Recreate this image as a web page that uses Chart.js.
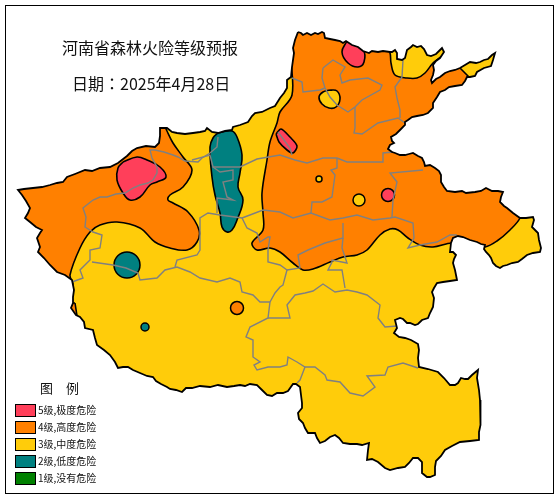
<!DOCTYPE html>
<html>
<head>
<meta charset="utf-8">
<script src="https://cdn.jsdelivr.net/npm/chart.js@4/dist/chart.umd.js"></script>
<style>
body { margin: 0; background: #fff; }
#wrap { position: relative; width: 560px; height: 500px; overflow: hidden; font-family: "Noto Sans CJK SC", sans-serif; color: #111; }
#myChart { position: absolute; left: 0; top: 0; }
#frame { position: absolute; left: 5px; top: 5px; width: 547px; height: 487px; border: 1px solid #000; }
.txt { position: absolute; white-space: nowrap; line-height: 1; }
.box { position: absolute; left: 15px; width: 19px; height: 11px; border: 1px solid #000; }
</style>
</head>
<body>
<div id="wrap">
  <canvas id="myChart" width="560" height="500"></canvas>
  <div id="frame"></div>
  <div id="texts"></div>
</div>
<script>
// values, x / y in the map's own 560x500 grid
const titleText = '河南省森林火险等级预报';
const dateText = '日期：2025年4月28日';
const legendTitle = '图　例';
const levels = ['5级,极度危险', '4级,高度危险', '3级,中度危险', '2级,低度危险', '1级,没有危险'];
const colors = ['#FF3F5A', '#FF8000', '#FFCC0A', '#008080', '#008000'];

const province = [[298,32],[301,33],[303,35],[307,33],[311,35],[315,33],[318,34],[322,32],[324,33],[325,38],[330,39],[335,40],[340,41],[343,43],[346,41],[352,45],[358,47],[363,51],[369,53],[372,51],[378,52],[383,51],[390,52],[392,52],[395,50],[397,53],[397,59],[402,60],[405,58],[407,50],[411,47],[413,45],[417,47],[421,46],[424,49],[427,55],[431,56],[436,54],[440,50],[442,48],[444,52],[440,58],[436,61],[433,65],[434,70],[433,75],[431,80],[432,83],[436,79],[440,77],[445,73],[450,71],[455,70],[460,68],[465,65],[470,62],[476,63],[480,62],[484,60],[488,59],[492,55],[495,53],[493,60],[491,66],[484,68],[477,72],[475,76],[470,77],[467,77],[465,81],[462,85],[455,86],[449,87],[445,90],[440,92],[437,97],[433,103],[433,108],[428,113],[423,115],[417,116],[412,117],[408,120],[405,122],[405,125],[400,130],[396,134],[391,137],[392,141],[394,143],[390,145],[388,149],[392,152],[395,153],[400,155],[405,155],[409,154],[413,153],[418,156],[422,158],[424,162],[425,166],[430,165],[435,168],[439,171],[441,175],[441,182],[444,187],[447,191],[455,192],[462,191],[466,193],[475,192],[481,191],[486,188],[492,191],[498,191],[503,192],[501,197],[500,202],[504,206],[507,208],[513,213],[520,218],[526,218],[533,217],[534,220],[532,227],[535,230],[538,233],[539,240],[541,248],[540,252],[533,253],[527,255],[522,259],[518,262],[512,263],[507,265],[503,266],[500,268],[496,266],[493,263],[491,258],[489,255],[486,252],[484,249],[485,245],[481,244],[477,242],[470,240],[463,237],[458,236],[453,238],[451,243],[450,252],[453,252],[456,255],[454,259],[453,263],[455,270],[456,275],[457,280],[450,281],[443,282],[437,283],[434,288],[432,292],[434,298],[433,307],[430,313],[428,318],[422,320],[418,324],[415,325],[410,323],[407,323],[403,319],[400,318],[395,320],[396,324],[397,328],[394,333],[399,337],[405,338],[411,340],[418,344],[419,350],[418,358],[419,367],[428,369],[438,372],[444,378],[450,385],[455,385],[458,383],[461,378],[465,379],[468,379],[472,375],[478,370],[477,378],[479,390],[480,400],[481,410],[480,425],[479,432],[479,440],[470,441],[460,442],[452,446],[445,450],[441,456],[436,461],[435,467],[435,475],[430,477],[427,477],[422,473],[422,462],[418,458],[413,458],[409,463],[405,467],[398,468],[390,470],[385,468],[378,462],[372,459],[367,460],[368,450],[369,443],[362,445],[357,444],[350,444],[343,443],[339,438],[335,435],[330,437],[325,441],[320,443],[317,438],[315,433],[308,433],[305,428],[303,423],[299,419],[298,413],[302,408],[302,403],[301,395],[300,387],[296,384],[293,384],[288,391],[283,393],[277,393],[272,396],[267,395],[262,390],[257,385],[250,384],[245,386],[240,385],[234,386],[227,387],[218,385],[210,387],[200,386],[192,388],[186,388],[182,392],[176,390],[170,389],[167,387],[161,384],[156,381],[153,377],[147,376],[140,373],[133,370],[128,367],[123,367],[118,368],[115,362],[110,355],[104,350],[97,345],[95,338],[93,330],[85,328],[84,322],[80,317],[76,315],[71,308],[73,303],[73,297],[74,290],[72,280],[65,275],[57,272],[50,265],[44,258],[38,252],[40,247],[37,238],[40,233],[42,230],[36,227],[30,222],[25,218],[28,213],[30,208],[26,201],[22,195],[18,190],[24,189],[33,188],[42,187],[50,185],[57,183],[63,182],[67,177],[75,174],[85,170],[92,171],[100,168],[110,167],[118,163],[127,156],[132,151],[137,148],[146,146],[155,147],[159,143],[160,136],[160,128],[167,128],[172,132],[177,133],[185,134],[193,133],[200,132],[205,131],[207,128],[212,132],[218,133],[225,131],[232,130],[233,127],[240,125],[248,122],[252,116],[255,113],[262,112],[270,108],[275,106],[280,98],[284,93],[287,88],[287,80],[291,77],[292,67],[294,53],[293,48],[295,40],[298,32]];

const orangeWest = [[166,129],[173,143],[183,157],[192,170],[183,187],[170,195],[168,200],[173,203],[188,212],[199,230],[197,242],[187,250],[170,248],[155,242],[140,228],[117,222],[100,225],[90,232],[80,248],[70,275],[72,285],[0,285],[0,100],[160,100],[166,129]];
const orangeEast = [[291,60],[292,95],[280,112],[277,123],[270,142],[267,160],[262,193],[263,213],[263,230],[252,243],[257,250],[270,248],[280,252],[293,263],[303,270],[313,269],[330,262],[343,257],[357,255],[367,250],[380,235],[390,229],[398,230],[408,238],[420,245],[433,247],[452,243],[470,246],[485,247],[497,241],[510,230],[520,218],[530,190],[555,100],[540,20],[285,20],[291,60]];
const orangeSpot = [[75,303],[77,316],[60,316],[60,303],[75,303]];
const yellowNorth = [[380,30],[390,53],[391,63],[395,75],[407,78],[417,78],[425,73],[433,63],[443,55],[455,40],[420,20],[380,30]];
const yellowTip = [[460,68],[469,77],[480,78],[500,60],[495,45],[470,55],[460,68]];
const yellowRing = [[330,90],[337,91],[340,99],[336,107],[329,108],[322,104],[319,97],[323,92],[330,90]];
const redWest = [[123,162],[137,157],[147,160],[160,167],[166,177],[157,182],[150,185],[140,197],[130,200],[123,193],[117,180],[118,168],[123,162]];
const redNorth = [[347,41],[363,50],[364,62],[358,67],[348,63],[342,52],[347,41]];
const redMiddle = [[276,134],[281,129],[290,137],[297,146],[293,153],[287,150],[279,142],[276,134]];
const tealBlob = [[218,133],[232,131],[237,137],[242,155],[240,173],[238,187],[243,200],[237,220],[232,230],[227,232],[222,227],[220,213],[215,195],[212,177],[210,147],[213,138],[218,133]];

const redSpots = [[388,195]];
const yellowSpotsBig = [[359,200]];
const yellowSpotsSmall = [[319,179]];
const orangeSpots = [[237,308]];
const tealSpotsBig = [[127,265]];
const tealSpotsSmall = [[145,327]];

const cityLines = [
  [[218,137],[217,147],[210,153],[202,158],[198,162],[185,161],[178,157],[173,155],[164,152],[155,150],[150,150],[152,158],[157,167],[157,173],[153,180],[148,183],[140,185],[133,188],[125,193],[116,194],[107,197],[100,197],[93,200],[83,208],[86,217],[85,227],[93,232],[102,235],[100,248],[90,250],[90,260],[80,270],[83,278],[72,282]],
  [[92,262],[113,265],[126,268],[138,273],[140,280],[157,278],[165,270],[177,267],[190,272],[200,278],[217,282],[230,278],[240,282],[242,292],[253,295],[260,302],[270,302],[268,318],[250,327],[246,337],[253,340],[253,357],[260,362],[254,365],[257,370],[268,367],[280,367],[287,365],[288,357],[297,362],[305,367],[315,367],[325,375],[327,380],[340,382],[350,393],[363,396],[375,387],[367,376],[385,375],[388,367],[403,363],[418,368]],
  [[305,367],[300,380],[297,383]],
  [[268,318],[290,318],[287,305],[295,295],[305,293],[313,291],[323,284],[335,292],[347,290],[357,292],[367,295],[380,305],[378,318],[385,327],[397,326]],
  [[270,302],[275,293],[280,287],[283,285],[287,270],[280,265],[268,262],[268,250],[270,237],[268,237],[260,242],[257,233],[247,228],[242,218],[220,215],[208,213],[200,218],[200,250],[197,255],[177,260],[175,267]],
  [[287,270],[300,268],[298,255],[308,250],[325,243],[343,238],[343,223]],
  [[343,238],[342,248],[347,263],[332,260],[332,262],[328,270],[342,270],[345,288]],
  [[192,160],[210,155],[213,167],[240,167],[257,159],[280,155],[295,160],[307,163],[323,158],[337,158],[347,162],[383,162],[383,153],[393,152]],
  [[213,167],[220,172],[233,170],[233,180],[223,182],[227,197],[233,200],[217,198],[217,213]],
  [[242,218],[263,210],[280,212],[293,218],[311,213],[330,220],[343,218],[357,215],[373,220],[390,218],[395,217],[413,223],[414,238],[408,248],[420,245],[437,242],[450,235],[457,235]],
  [[337,158],[337,168],[331,170],[335,175],[332,197],[322,202],[312,202],[311,213]],
  [[423,170],[390,173],[397,182],[393,200],[392,217]],
  [[323,68],[333,60],[345,67],[340,75],[342,83],[350,80],[368,78],[382,85],[380,90],[362,100],[355,107],[348,112],[337,105],[330,97],[325,88],[322,78],[323,68]],
  [[325,88],[320,90],[303,92],[302,82],[292,78]],
  [[355,107],[355,128],[354,133],[362,134],[378,123],[398,118],[405,123]],
  [[403,60],[402,77],[395,87],[397,98],[400,110],[400,118]],
  [[278,132],[290,148],[292,155]]
];

function pts(list) {
    return list.map(p => ({x: p[0], y: p[1]}));
}

// clip contour areas to the province shape; has to run before the Filler hook
const mapClip = {
    id: 'mapClip',
    beforeDatasetDraw(chart, args) {
        if (!chart.data.datasets[args.index].clipToMap) return;
        const ctx = chart.ctx;
        ctx.save();
        ctx.beginPath();
        province.forEach((p, i) => {
            const px = chart.scales.x.getPixelForValue(p[0]);
            const py = chart.scales.y.getPixelForValue(p[1]);
            if (i === 0) ctx.moveTo(px, py); else ctx.lineTo(px, py);
        });
        ctx.closePath();
        ctx.clip();
    },
    afterDatasetDraw(chart, args) {
        if (chart.data.datasets[args.index].clipToMap) chart.ctx.restore();
    }
};
Chart.unregister(Chart.Filler);
Chart.register(mapClip);
Chart.register(Chart.Filler);

function area(list, color, tension) {
    return {
        data: pts(list), showLine: true, pointRadius: 0, fill: 'shape',
        backgroundColor: color, borderColor: '#000', borderWidth: 1.6,
        tension: tension, clipToMap: true
    };
}
function spots(list, color, radius) {
    return {
        data: pts(list), showLine: false, pointRadius: radius,
        backgroundColor: color, borderColor: '#000', borderWidth: 1.5
    };
}

const layers = [
    {data: pts(province), showLine: true, pointRadius: 0, fill: 'shape', backgroundColor: colors[2], borderWidth: 0, borderColor: colors[2]},
    area(orangeWest, colors[1], 0.35),
    area(orangeEast, colors[1], 0.35),
    area(orangeSpot, colors[1], 0),
    area(yellowNorth, colors[2], 0.35),
    area(yellowTip, colors[2], 0),
    area(yellowRing, colors[2], 0.4),
    area(redWest, colors[0], 0.4),
    area(redNorth, colors[0], 0.4),
    area(redMiddle, colors[0], 0.3),
    area(tealBlob, colors[3], 0.4),
    spots(redSpots, colors[0], 6.5),
    spots(yellowSpotsBig, colors[2], 6),
    spots(yellowSpotsSmall, colors[2], 3),
    spots(orangeSpots, colors[1], 6.5),
    spots(tealSpotsBig, colors[3], 13),
    spots(tealSpotsSmall, colors[3], 4)
];
cityLines.forEach(line => layers.push({
    data: pts(line), showLine: true, pointRadius: 0, fill: false,
    borderColor: '#808080', borderWidth: 1.4
}));
layers.push({data: pts(province), showLine: true, pointRadius: 0, fill: false, borderColor: '#000', borderWidth: 1.8});

const myChart = new Chart(document.getElementById('myChart'), {
    type: 'scatter',
    data: {datasets: layers.reverse()},
    options: {
        responsive: false,
        animation: false,
        events: [],
        layout: {padding: 0, autoPadding: false},
        plugins: {legend: {display: false}, tooltip: {enabled: false}},
        scales: {
            x: {display: false, min: 0, max: 560},
            y: {display: false, min: 0, max: 500, reverse: true}
        }
    }
});

// title and legend as page text
const texts = document.getElementById('texts');
function addText(str, x, y, size, family) {
    const d = document.createElement('div');
    d.className = 'txt';
    d.textContent = str;
    d.style.left = x + 'px';
    d.style.top = y + 'px';
    d.style.fontSize = size + 'px';
    if (family) d.style.fontFamily = family;
    texts.appendChild(d);
}
addText(titleText, 62, 39, 16);
addText(dateText, 72, 75, 16, '"Noto Sans CJK TC"');
addText(legendTitle, 40, 381, 13);
levels.forEach((name, i) => {
    const b = document.createElement('div');
    b.className = 'box';
    b.style.top = (404 + i * 17) + 'px';
    b.style.background = colors[i];
    texts.appendChild(b);
    addText(name, 38, 405 + i * 17, 10);
});
</script>
</body>
</html>
